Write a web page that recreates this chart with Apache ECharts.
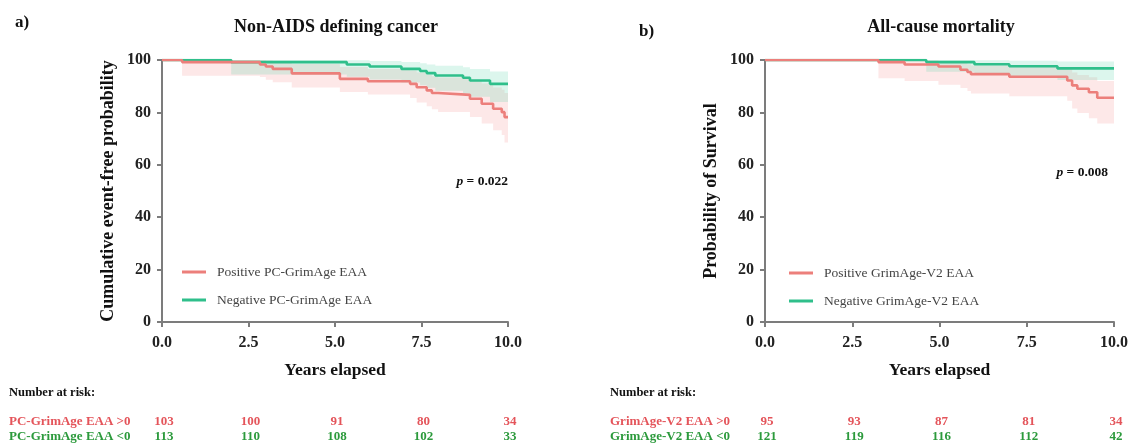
<!DOCTYPE html>
<html>
<head>
<meta charset="utf-8">
<script src="https://cdn.jsdelivr.net/npm/echarts@6/dist/echarts.min.js"></script>
<style>
  html, body { margin: 0; padding: 0; background: #fff; }
  #chart { width: 1131px; height: 445px; }
</style>
</head>
<body>
<div id="chart"></div>
<script>
// ---- Panel a: Non-AIDS defining cancer (Kaplan-Meier, event-free %) ----
const aPosTime  = [0, 0.58, 2.83, 3.0, 3.2, 3.75, 5.14, 5.95, 7.17, 7.36, 7.65, 7.8, 7.98, 8.9, 9.24, 9.57, 9.82, 9.9, 10];
const aPosSurv  = [100, 99.2, 98.3, 97.5, 96.6, 94.9, 92.8, 91.9, 90.9, 89.6, 88.4, 87.4, 86.7, 85.2, 83.3, 81.4, 80.1, 78.2, 78.2];
const aPosUpper = [100, 100, 100, 99.8, 99.5, 98.5, 97.3, 96.6, 96.0, 95.2, 94.4, 93.8, 93.3, 92.2, 91.0, 89.5, 88.6, 87.4, 87.4];
const aPosLower = [100, 94.0, 93.5, 92.5, 91.5, 89.5, 87.8, 86.8, 85.5, 83.8, 82.3, 81.2, 80.2, 78.2, 75.8, 73.2, 71.4, 68.5, 68.5];

const aNegTime  = [0, 2.0, 5.34, 6.0, 6.92, 7.46, 7.65, 7.9, 8.7, 8.9, 9.48, 10];
const aNegSurv  = [100, 99.2, 98.3, 97.5, 96.6, 95.8, 95.0, 94.1, 93.2, 92.2, 90.9, 90.9];
const aNegUpper = [100, 100, 99.9, 99.6, 99.2, 98.8, 98.3, 97.8, 97.2, 96.6, 95.6, 95.6];
const aNegLower = [100, 94.5, 93.6, 92.6, 91.4, 90.4, 89.4, 88.3, 87.2, 86.0, 84.0, 84.0];

// ---- Panel b: All-cause mortality (Kaplan-Meier, survival %) ----
const bPosTime  = [0, 3.25, 4.0, 4.97, 5.6, 5.8, 5.9, 7.0, 8.66, 8.8, 8.95, 9.28, 9.52, 10];
const bPosSurv  = [100, 99.2, 98.3, 97.5, 96.3, 95.4, 94.6, 93.6, 92.2, 90.3, 89.0, 87.7, 85.6, 85.6];
const bPosUpper = [100, 100, 99.8, 99.5, 98.9, 98.4, 97.9, 97.3, 96.5, 95.2, 94.3, 93.4, 92.0, 92.0];
const bPosLower = [100, 93.0, 92.0, 90.6, 89.3, 88.2, 87.2, 86.2, 84.4, 81.5, 79.8, 77.8, 75.8, 75.8];

const bNegTime  = [0, 4.62, 6.0, 7.0, 8.38, 10];
const bNegSurv  = [100, 99.2, 98.4, 97.6, 96.8, 96.8];
const bNegUpper = [100, 100, 99.9, 99.7, 99.4, 99.4];
const bNegLower = [100, 95.5, 94.4, 93.4, 92.4, 92.4];

// ---- Axis ticks and number-at-risk table ----
const yearTicks = [0, 2.5, 5, 7.5, 10];
const aRiskPos = [103, 100, 91, 80, 34];
const aRiskNeg = [113, 110, 108, 102, 33];
const bRiskPos = [95, 93, 87, 81, 34];
const bRiskNeg = [121, 119, 116, 112, 42];

const RED = '#ec7f7b';
const GREEN = '#2fbf8b';
const RED_BAND = 'rgba(246,150,150,0.22)';
const GREEN_BAND = 'rgba(95,215,175,0.22)';
const RISK_RED = '#e4545a';
const RISK_GREEN = '#2c9a3c';
const SERIF = '"Liberation Serif", "Times New Roman", serif';

const pairs = (t, v) => t.map((x, i) => [x, v[i]]);

// Step-shaped confidence band polygon, placed through the axis scales
function bandSeries(idx, times, upper, lower, fill) {
  return {
    type: 'custom',
    xAxisIndex: idx, yAxisIndex: idx,
    silent: true, z: 1,
    data: [[times[0], upper[0]]],
    renderItem: function (params, api) {
      const pts = [];
      for (let i = 0; i < times.length; i++) {
        if (i > 0) pts.push(api.coord([times[i], upper[i - 1]]));
        pts.push(api.coord([times[i], upper[i]]));
      }
      for (let i = times.length - 1; i >= 0; i--) {
        pts.push(api.coord([times[i], lower[i]]));
        if (i > 0) pts.push(api.coord([times[i], lower[i - 1]]));
      }
      return { type: 'polygon', shape: { points: pts }, style: { fill: fill } };
    }
  };
}

function kmLine(idx, name, times, surv, color) {
  return {
    type: 'line', name: name, step: 'end',
    xAxisIndex: idx, yAxisIndex: idx,
    data: pairs(times, surv),
    showSymbol: false, symbol: 'none',
    lineStyle: { color: color, width: 2.6 },
    itemStyle: { color: color },
    z: 3
  };
}

function xAxisCfg(idx) {
  return {
    type: 'value', gridIndex: idx, min: 0, max: 10, interval: 2.5,
    name: 'Years elapsed', nameLocation: 'middle', nameGap: 39,
    nameTextStyle: { fontFamily: SERIF, fontWeight: 'bold', fontSize: 17.5, color: '#111' },
    axisLine: { show: true, lineStyle: { color: '#7c7c7c', width: 2 } },
    axisTick: { show: true, length: 5, lineStyle: { color: '#7c7c7c', width: 2 } },
    axisLabel: { formatter: v => v.toFixed(1), fontFamily: SERIF, fontWeight: 'bold', fontSize: 16, color: '#222', margin: 13 },
    splitLine: { show: false }
  };
}

function yAxisCfg(idx, name) {
  return {
    type: 'value', gridIndex: idx, min: 0, max: 100, interval: 20,
    name: name, nameLocation: 'middle', nameGap: 45, nameRotate: 90,
    nameTextStyle: { fontFamily: SERIF, fontWeight: 'bold', fontSize: 18, color: '#111' },
    axisLine: { show: true, lineStyle: { color: '#7c7c7c', width: 2 } },
    axisTick: { show: true, length: 5, lineStyle: { color: '#7c7c7c', width: 2 } },
    axisLabel: { fontFamily: SERIF, fontWeight: 'bold', fontSize: 16, color: '#222', margin: 11 },
    splitLine: { show: false }
  };
}

function legendCfg(left, top, names) {
  return {
    orient: 'vertical', left: left, top: top,
    data: names, icon: 'rect', itemWidth: 24, itemHeight: 3, itemGap: 14,
    selectedMode: false,
    textStyle: { fontFamily: SERIF, fontSize: 13.5, color: '#444', padding: [0, 0, 0, 6] }
  };
}

const aNames = ['Positive PC-GrimAge EAA', 'Negative PC-GrimAge EAA'];
const bNames = ['Positive GrimAge-V2 EAA', 'Negative GrimAge-V2 EAA'];

const chart = echarts.init(document.getElementById('chart'), null, { renderer: 'canvas' });

chart.setOption({
  animation: false,
  backgroundColor: '#ffffff',
  grid: [
    { left: 162, top: 60, width: 346, height: 262 },
    { left: 765, top: 60, width: 352, height: 262 }
  ],
  xAxis: [xAxisCfg(0), xAxisCfg(1)],
  yAxis: [yAxisCfg(0, 'Cumulative event-free probability'), yAxisCfg(1, 'Probability of Survival')],
  legend: [legendCfg(177, 260, aNames), legendCfg(784, 261, bNames)],
  series: [
    bandSeries(0, aPosTime, aPosUpper, aPosLower, RED_BAND),
    bandSeries(0, aNegTime, aNegUpper, aNegLower, GREEN_BAND),
    kmLine(0, aNames[1], aNegTime, aNegSurv, GREEN),
    kmLine(0, aNames[0], aPosTime, aPosSurv, RED),
    bandSeries(1, bPosTime, bPosUpper, bPosLower, RED_BAND),
    bandSeries(1, bNegTime, bNegUpper, bNegLower, GREEN_BAND),
    kmLine(1, bNames[1], bNegTime, bNegSurv, GREEN),
    kmLine(1, bNames[0], bPosTime, bPosSurv, RED)
  ]
});

// Titles, panel letters, p-values and the number-at-risk table
function txt(x, y, text, opts) {
  opts = opts || {};
  return {
    type: 'text', x: x, y: y, silent: true,
    style: {
      text: text,
      font: opts.font || ('bold 18px ' + SERIF),
      fill: opts.fill || '#111',
      textAlign: opts.align || 'left', align: opts.align || 'left',
      textVerticalAlign: 'middle', verticalAlign: 'middle',
      rich: opts.rich
    }
  };
}

const graphics = [];
graphics.push(txt(15, 23, 'a)', { font: 'bold 17px ' + SERIF }));
graphics.push(txt(639, 32, 'b)', { font: 'bold 17px ' + SERIF }));
graphics.push(txt(336, 27, 'Non-AIDS defining cancer', { align: 'center' }));
graphics.push(txt(941, 27, 'All-cause mortality', { align: 'center' }));

const pRich = {
  i: { fontFamily: SERIF, fontStyle: 'italic', fontWeight: 'bold', fontSize: 13.5, fill: '#111' },
  n: { fontFamily: SERIF, fontWeight: 'bold', fontSize: 13.5, fill: '#111' }
};
graphics.push(txt(508, 182, '{i|p}{n| = 0.022}', { align: 'right', rich: pRich }));
graphics.push(txt(1108, 173, '{i|p}{n| = 0.008}', { align: 'right', rich: pRich }));

function riskBlock(idx, left, posLabel, negLabel, posVals, negVals) {
  const f = 'bold 13px ' + SERIF;
  graphics.push(txt(left, 393, 'Number at risk:', { font: 'bold 12.5px ' + SERIF }));
  graphics.push(txt(left, 422, posLabel, { font: f, fill: RISK_RED }));
  graphics.push(txt(left, 437, negLabel, { font: f, fill: RISK_GREEN }));
  yearTicks.forEach(function (t, i) {
    const px = chart.convertToPixel({ xAxisIndex: idx }, t);
    graphics.push(txt(px + 2, 422, String(posVals[i]), { font: f, fill: RISK_RED, align: 'center' }));
    graphics.push(txt(px + 2, 437, String(negVals[i]), { font: f, fill: RISK_GREEN, align: 'center' }));
  });
}
riskBlock(0, 9, 'PC-GrimAge EAA >0', 'PC-GrimAge EAA <0', aRiskPos, aRiskNeg);
riskBlock(1, 610, 'GrimAge-V2 EAA >0', 'GrimAge-V2 EAA <0', bRiskPos, bRiskNeg);

chart.setOption({ graphic: graphics });
</script>
</body>
</html>
